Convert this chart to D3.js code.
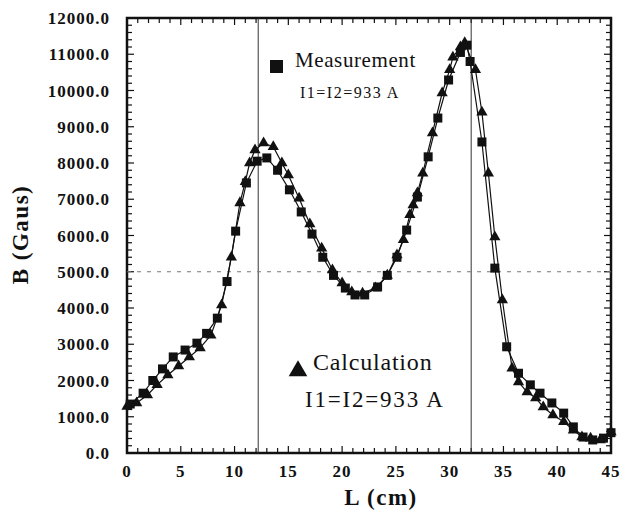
<!DOCTYPE html>
<html>
<head>
<meta charset="utf-8">
<script src="https://cdn.jsdelivr.net/npm/d3@7"></script>
<style>
	body { margin: 0; background: #fff; }
	svg { display: block; }
	text { font-family: "Liberation Serif", "DejaVu Serif", serif; fill: #111; }
</style>
</head>
<body>
<div id="chart"></div>
<script>
// measured field (squares)
const measL = [0.3, 1.5, 2.4, 3.3, 4.3, 5.4, 6.5, 7.4, 8.4, 9.3, 10.1, 11.1, 12.1, 13.0, 14.0, 15.1, 16.2, 17.2, 18.2, 19.2, 20.3, 21.2, 22.1, 23.3, 24.2, 25.1, 26.0, 27.0, 28.0, 28.9, 29.9, 31.0, 31.6, 31.9, 33.0, 34.2, 35.3, 36.4, 37.5, 38.4, 39.5, 40.6, 41.5, 42.4, 43.3, 44.3, 45.0];
const measB = [1350, 1650, 2000, 2320, 2650, 2840, 3030, 3300, 3720, 4730, 6120, 7450, 8050, 8140, 7800, 7260, 6650, 6040, 5400, 4900, 4550, 4360, 4360, 4580, 4900, 5400, 6150, 7060, 8170, 9240, 10290, 11050, 11250, 10800, 8580, 5100, 2930, 2200, 1880, 1650, 1380, 1100, 720, 440, 360, 410, 560];

// calculated field (triangles)
const calcL = [0, 0.9, 1.9, 2.8, 3.8, 4.8, 5.8, 6.8, 7.8, 8.8, 9.7, 10.5, 11.0, 11.4, 11.9, 12.7, 13.6, 14.4, 15.0, 16.0, 17.0, 18.1, 19.1, 20.0, 20.9, 21.9, 23.1, 24.2, 25.1, 25.7, 26.3, 26.6, 27.0, 27.5, 28.4, 29.3, 30.0, 30.3, 31.0, 31.4, 32.4, 33.0, 33.6, 34.2, 34.9, 35.8, 36.4, 37.2, 38.0, 38.7, 39.6, 40.6, 41.5, 42.3, 43.1, 44.0, 45.0];
const calcB = [1280, 1380, 1600, 1880, 2150, 2400, 2650, 2900, 3250, 4080, 5400, 6900, 7480, 8000, 8360, 8550, 8450, 8000, 7670, 7030, 6320, 5650, 5050, 4690, 4440, 4410, 4550, 4900, 5460, 5880, 6570, 6840, 7170, 7720, 8830, 9930, 10570, 10920, 11200, 11320, 10570, 9400, 7720, 5960, 4220, 2340, 1960, 1680, 1520, 1270, 1050, 860, 630, 440, 410, 360, 580];

const yTicks = [0, 1000, 2000, 3000, 4000, 5000, 6000, 7000, 8000, 9000, 10000, 11000, 12000];
const xTicks = [0, 5, 10, 15, 20, 25, 30, 35, 40, 45];
const refL = [12.2, 32.0];
const refB = [5000];

const W = 623, H = 517;
const mLeft = 127, mRight = 611, mTop = 18, mBottom = 453;

const svg = d3.select('#chart').append('svg')
	.attr('width', W)
	.attr('height', H);

const x = d3.scaleLinear().domain([0, 45]).range([mLeft, mRight]);
const y = d3.scaleLinear().domain([0, 12000]).range([mBottom, mTop]);

// minor + major ticks, all pointing inward, on the four sides
const minorX = d3.range(0, 45.01, 1);
const minorY = d3.range(0, 12001, 200);

const tickG = svg.append('g').attr('stroke', '#111').attr('stroke-width', 1.2);

tickG.selectAll('.tb').data(minorX).enter().append('line')
	.attr('x1', d => x(d)).attr('x2', d => x(d))
	.attr('y1', mBottom).attr('y2', d => mBottom - (d % 5 === 0 ? 7 : 5));
tickG.selectAll('.tt').data(minorX).enter().append('line')
	.attr('x1', d => x(d)).attr('x2', d => x(d))
	.attr('y1', mTop).attr('y2', d => mTop + (d % 5 === 0 ? 7 : 5));
tickG.selectAll('.tl').data(minorY).enter().append('line')
	.attr('y1', d => y(d)).attr('y2', d => y(d))
	.attr('x1', mLeft).attr('x2', d => mLeft + (d % 1000 === 0 ? 7 : 5));
tickG.selectAll('.tr').data(minorY).enter().append('line')
	.attr('y1', d => y(d)).attr('y2', d => y(d))
	.attr('x1', mRight).attr('x2', d => mRight - (d % 1000 === 0 ? 7 : 5));

// frame
svg.append('rect')
	.attr('x', mLeft).attr('y', mTop)
	.attr('width', mRight - mLeft).attr('height', mBottom - mTop)
	.style('fill', 'none')
	.style('stroke', '#111')
	.style('stroke-width', 2.5);

// tick labels
svg.selectAll('.ylab').data(yTicks).enter().append('text')
	.attr('x', mLeft - 17)
	.attr('y', d => y(d) + 6)
	.attr('text-anchor', 'end')
	.style('font-size', '17px')
	.style('font-weight', 'bold')
	.style('letter-spacing', '1px')
	.text(d => d3.format('.1f')(d));

svg.selectAll('.xlab').data(xTicks).enter().append('text')
	.attr('x', d => x(d))
	.attr('y', mBottom + 24)
	.attr('text-anchor', 'middle')
	.style('font-size', '17px')
	.style('font-weight', 'bold')
	.style('letter-spacing', '1px')
	.text(d => d);

// axis titles
svg.append('text')
	.attr('transform', `translate(28, ${(mTop + mBottom) / 2 - 1}) rotate(-90)`)
	.attr('text-anchor', 'middle')
	.style('font-size', '23px')
	.style('font-weight', 'bold')
	.style('letter-spacing', '1.5px')
	.text('B (Gaus)');

svg.append('text')
	.attr('x', 381)
	.attr('y', 505)
	.attr('text-anchor', 'middle')
	.style('font-size', '23px')
	.style('font-weight', 'bold')
	.style('letter-spacing', '1.5px')
	.text('L (cm)');

// reference lines
svg.selectAll('.vref').data(refL).enter().append('line')
	.attr('x1', d => x(d)).attr('x2', d => x(d))
	.attr('y1', mTop).attr('y2', mBottom)
	.style('stroke', '#333')
	.style('stroke-width', 1);

svg.selectAll('.href').data(refB).enter().append('line')
	.attr('x1', mLeft).attr('x2', mRight)
	.attr('y1', d => y(d)).attr('y2', d => y(d))
	.style('stroke', '#777')
	.style('stroke-width', 1)
	.style('stroke-dasharray', '4 6');

// series
const meas = measL.map((l, i) => [l, measB[i]]);
const calc = calcL.map((l, i) => [l, calcB[i]]);

const line = d3.line().x(d => x(d[0])).y(d => y(d[1]));

svg.append('path')
	.attr('d', line(calc))
	.style('fill', 'none')
	.style('stroke', '#111')
	.style('stroke-width', 1.2);

svg.append('path')
	.attr('d', line(meas))
	.style('fill', 'none')
	.style('stroke', '#111')
	.style('stroke-width', 1.2);

const tri = d3.symbol().type(d3.symbolTriangle).size(55);

svg.selectAll('.calc').data(calc).enter().append('path')
	.attr('d', tri)
	.attr('transform', d => `translate(${x(d[0])},${y(d[1])})`)
	.style('fill', '#111');

svg.selectAll('.meas').data(meas).enter().append('rect')
	.attr('x', d => x(d[0]) - 4.5)
	.attr('y', d => y(d[1]) - 4.5)
	.attr('width', 9).attr('height', 9)
	.style('fill', '#111');

// legend
svg.append('rect')
	.attr('x', 270).attr('y', 60)
	.attr('width', 13).attr('height', 13)
	.style('fill', '#111');
svg.append('text')
	.attr('x', 295).attr('y', 67)
	.style('font-size', '21px')
	.style('letter-spacing', '0.6px')
	.text('Measurement');
svg.append('text')
	.attr('x', 300).attr('y', 98)
	.style('font-size', '16px')
	.style('letter-spacing', '1.5px')
	.text('I1=I2=933 A');

svg.append('path')
	.attr('d', d3.symbol().type(d3.symbolTriangle).size(150))
	.attr('transform', 'translate(298,371)')
	.style('fill', '#111');
svg.append('text')
	.attr('x', 313).attr('y', 370)
	.style('font-size', '24px')
	.style('letter-spacing', '0.8px')
	.text('Calculation');
svg.append('text')
	.attr('x', 305).attr('y', 407)
	.style('font-size', '23px')
	.style('letter-spacing', '1.8px')
	.text('I1=I2=933 A');
</script>
</body>
</html>
